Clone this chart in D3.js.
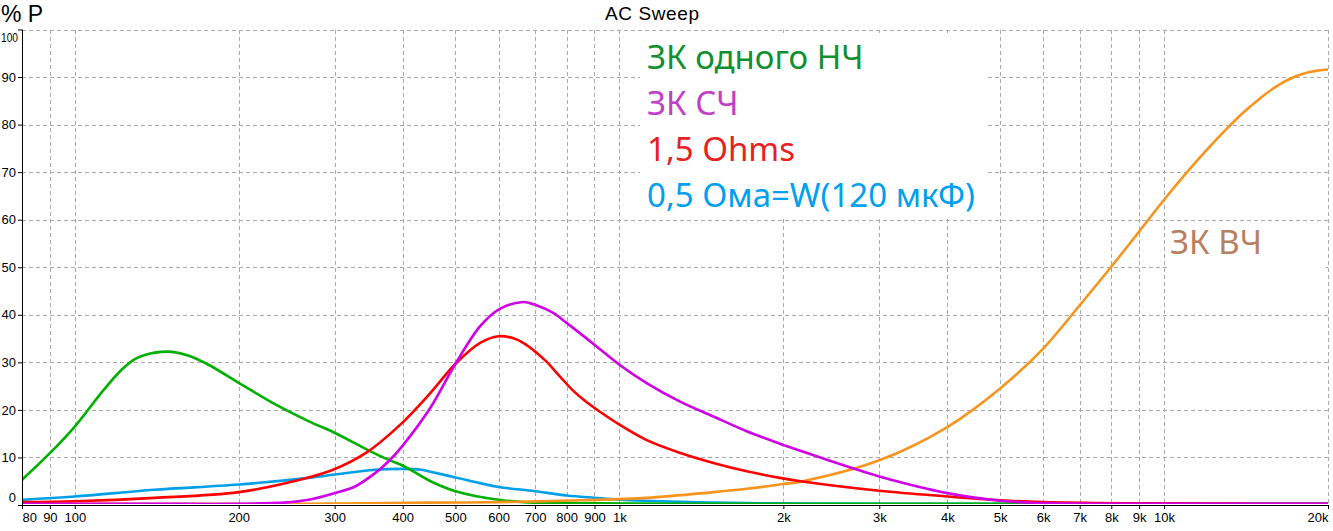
<!DOCTYPE html>
<html>
<head>
<meta charset="utf-8">
<script src="https://cdn.jsdelivr.net/npm/d3@7/dist/d3.min.js"></script>
<style>
  body { margin: 0; background: #fff; }
  svg { display: block; }
</style>
</head>
<body>
<svg width="1333" height="531"></svg>
<script>
(function () {

	// tick values and labels
	var xTicks = [80, 90, 100, 200, 300, 400, 500, 600, 700, 800, 900, 1000,
		2000, 3000, 4000, 5000, 6000, 7000, 8000, 9000, 10000, 20000];
	var xTickLabels = ["80", "90", "100", "200", "300", "400", "500", "600", "700", "800", "900", "1k",
		"2k", "3k", "4k", "5k", "6k", "7k", "8k", "9k", "10k", "20k"];
	var yTicks = [0, 10, 20, 30, 40, 50, 60, 70, 80, 90, 100];

	// ЗК одного НЧ (green)
	var lowFreq = [80, 90, 100, 113, 122, 129, 137, 144, 151, 162, 176, 200, 234, 269, 300, 346, 377, 400, 450, 500, 600, 700, 900, 1300, 1600, 20000];
	var lowVals = [5.3, 10.9, 16.5, 24.2, 28.5, 30.7, 31.8, 32.2, 32.2, 31.4, 29.5, 25.7, 21.1, 17.6, 15.2, 11.5, 9.5, 8.3, 5.0, 2.9, 1.1, 0.5, 0.35, 0.15, 0, 0];

	// ЗК СЧ (purple)
	var midFreq = [80, 140, 200, 243, 269, 300, 327, 356, 377, 400, 450, 500, 555, 600, 666, 700, 756, 800, 900, 1000, 1120, 1290, 1488, 1713, 1970, 2150, 2655, 3000, 4000, 5000, 6000, 9000, 20000];
	var midVals = [0, 0, 0.1, 0.5, 1.1, 2.5, 3.9, 6.7, 9.2, 12.5, 20.5, 29.7, 37.6, 41.1, 42.7, 42.1, 40.4, 38.3, 33.7, 29.5, 25.7, 21.8, 18.6, 15.5, 12.9, 11.4, 7.9, 6.0, 2.5, 0.9, 0.4, 0.2, 0.1];

	// 1,5 Ohms (red)
	var ohm15Freq = [80, 100, 140, 200, 259, 298, 343, 396, 450, 500, 555, 600, 637, 666, 700, 734, 778, 823, 871, 921, 1000, 1120, 1290, 1488, 1713, 1970, 2150, 3000, 4000, 5000, 6000, 8500, 15000, 20000];
	var ohm15Vals = [0.6, 0.8, 1.5, 2.7, 5.3, 7.4, 11.0, 16.9, 23.6, 29.7, 34.1, 35.5, 35.1, 34.1, 32.3, 30.2, 27.0, 24.0, 21.6, 19.6, 16.9, 13.7, 11.0, 8.85, 7.1, 5.7, 5.0, 3.0, 1.8, 1.0, 0.6, 0.35, 0.1, 0];

	// 0,5 Ома (blue)
	var ohm05Freq = [80, 100, 140, 200, 269, 300, 356, 400, 433, 450, 500, 555, 600, 700, 800, 900, 1000, 1290, 1713, 2150, 3000, 5000, 7000, 20000];
	var ohm05Vals = [1.1, 1.8, 3.2, 4.3, 5.7, 6.4, 7.4, 7.6, 7.4, 7.0, 5.8, 4.6, 3.8, 2.9, 2.0, 1.5, 1.1, 0.65, 0.4, 0.3, 0.2, 0.1, 0, 0];

	// ЗК ВЧ (orange)
	var highFreq = [80, 200, 300, 450, 600, 850, 1120, 1488, 1713, 2000, 2150, 3000, 4000, 5000, 6000, 7000, 8000, 9000, 10000, 11000, 12000, 13000, 14000, 15000, 16000, 17000, 18000, 19000, 20000];
	var highVals = [0.1, 0.2, 0.3, 0.5, 0.6, 1.0, 1.5, 2.7, 3.4, 4.4, 4.9, 9.4, 16.4, 24.5, 32.9, 42.0, 50.1, 57.5, 64.2, 69.9, 74.8, 79.0, 82.6, 85.5, 87.9, 89.6, 90.7, 91.3, 91.6];

	var series = [
		{ freq: ohm05Freq, vals: ohm05Vals, color: "#00a0e8" },
		{ freq: lowFreq, vals: lowVals, color: "#00b000" },
		{ freq: highFreq, vals: highVals, color: "#f7941d" },
		{ freq: ohm15Freq, vals: ohm15Vals, color: "#ff0000" },
		{ freq: midFreq, vals: midVals, color: "#d000e8" }
	];

	var left = 22, right = 1328, top = 29.5, bottom = 505;

	var svg = d3.select("svg");

	var xScale = d3.scaleLog()
		.domain([80, 20000])
		.range([left, right]);

	var yScale = d3.scaleLinear()
		.domain([0, 100])
		.range([bottom, top]);

	// grid
	var grid = svg.append("g")
		.attr("stroke", "#aaa")
		.attr("stroke-dasharray", "4,3")
		.attr("shape-rendering", "crispEdges");

	grid.selectAll(".gx")
		.data(xTicks.slice(1))
		.enter()
		.append("line")
		.attr("x1", function(d){ return Math.round(xScale(d)) + 0.5; })
		.attr("x2", function(d){ return Math.round(xScale(d)) + 0.5; })
		.attr("y1", top)
		.attr("y2", bottom);

	grid.selectAll(".gy")
		.data(yTicks.slice(1))
		.enter()
		.append("line")
		.attr("x1", left)
		.attr("x2", right)
		.attr("y1", function(d){ return Math.round(yScale(d)) + 0.5; })
		.attr("y2", function(d){ return Math.round(yScale(d)) + 0.5; });

	// white boxes behind the labels
	svg.append("rect")
		.attr("x", 640).attr("y", 33)
		.attr("width", 346).attr("height", 184)
		.attr("fill", "#fff");
	svg.append("rect")
		.attr("x", 1167).attr("y", 222)
		.attr("width", 159).attr("height", 48)
		.attr("fill", "#fff");

	// curves
	svg.append("clipPath")
		.attr("id", "plot")
		.append("rect")
		.attr("x", left + 1).attr("y", top)
		.attr("width", right - left).attr("height", bottom - top - 1);

	var line = d3.line()
		.x(function(d){ return xScale(d[0]); })
		.y(function(d){ return yScale(d[1]); })
		.curve(d3.curveCatmullRom.alpha(0.5));

	svg.append("g")
		.attr("clip-path", "url(#plot)")
		.selectAll("path")
		.data(series)
		.enter()
		.append("path")
		.attr("d", function(d){
			return line(d.freq.map(function(f, i){ return [f, Math.max(d.vals[i], 0.25)]; }));
		})
		.attr("fill", "none")
		.attr("stroke", function(d){ return d.color; })
		.attr("stroke-width", 2.6);

	// axes
	var xAxis = d3.axisBottom(xScale)
		.tickValues(xTicks)
		.tickFormat(function(d, i){ return xTickLabels[i]; })
		.tickSize(4)
		.tickPadding(4);

	var gx = svg.append("g")
		.attr("transform", "translate(0," + bottom + ")")
		.call(xAxis);
	gx.select(".domain").attr("stroke", "#000").attr("d", "M" + left + ",0.5H" + right);
	gx.selectAll("text")
		.attr("font-family", "Liberation Sans, Arial, sans-serif")
		.attr("font-size", 13)
		.attr("fill", "#000")
		.attr("text-anchor", function(d, i){
			return i === 0 ? "start" : (i === xTicks.length - 1 ? "end" : "middle");
		});

	var yAxis = d3.axisLeft(yScale)
		.tickValues(yTicks)
		.tickSize(4)
		.tickPadding(2);

	var gy = svg.append("g")
		.attr("transform", "translate(" + left + ",0)")
		.call(yAxis);
	gy.select(".domain").attr("stroke", "#000").attr("d", "M0.5," + top + "V" + bottom);
	gy.selectAll("text")
		.attr("font-family", "Liberation Sans, Arial, sans-serif")
		.attr("font-size", 13)
		.attr("fill", "#000")
		.attr("dy", function(d){
			return d === 100 ? "0.95em" : (d === 0 ? "-0.3em" : "0.32em");
		});
	// the top label is squeezed to fit the margin
	gy.selectAll("text")
		.filter(function(d){ return d === 100; })
		.attr("x", -4)
		.attr("textLength", 17)
		.attr("lengthAdjust", "spacingAndGlyphs");

	// titles
	svg.append("text")
		.attr("x", 605).attr("y", 20)
		.attr("font-family", "Liberation Sans, Arial, sans-serif")
		.attr("font-size", 19)
		.attr("letter-spacing", 0.6)
		.text("AC Sweep");

	svg.append("text")
		.attr("x", 1).attr("y", 22)
		.attr("font-family", "Liberation Sans, Arial, sans-serif")
		.attr("font-size", 23)
		.text("% P");

	// labels
	var labels = [
		{ text: "ЗК одного НЧ", color: "#109030", x: 647, y: 69 },
		{ text: "ЗК СЧ", color: "#c040c8", x: 647, y: 115 },
		{ text: "1,5 Ohms", color: "#e82020", x: 647, y: 161 },
		{ text: "0,5 Ома=W(120 мкФ)", color: "#00a0f0", x: 647, y: 207 },
		{ text: "ЗК ВЧ", color: "#b88060", x: 1170, y: 254 }
	];

	svg.selectAll(".lbl")
		.data(labels)
		.enter()
		.append("text")
		.attr("x", function(d){ return d.x; })
		.attr("y", function(d){ return d.y; })
		.attr("fill", function(d){ return d.color; })
		.attr("font-family", "Noto Sans, Open Sans, sans-serif")
		.attr("font-size", 33)
		.text(function(d){ return d.text; });

})();
</script>
</body>
</html>
